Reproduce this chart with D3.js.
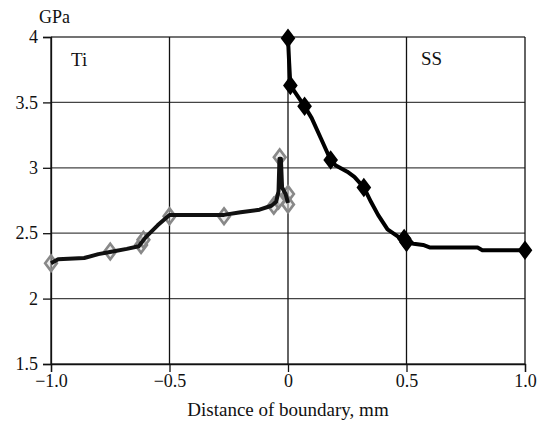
<!DOCTYPE html>
<html>
<head>
<meta charset="utf-8">
<script src="https://cdn.jsdelivr.net/npm/d3@7"></script>
<style>
  body { margin: 0; background: #fff; }
  text { font-family: "Liberation Serif", "Times New Roman", serif; fill: #111; }
</style>
</head>
<body>
<div id="chart"></div>
<script>
// data: [distance mm, hardness GPa]
const tiLine = [[-1.00, 2.27], [-0.97, 2.30], [-0.86, 2.31], [-0.80, 2.34], [-0.74, 2.36], [-0.68, 2.38],
  [-0.63, 2.40], [-0.60, 2.47], [-0.55, 2.56], [-0.50, 2.64], [-0.40, 2.64], [-0.27, 2.64],
  [-0.20, 2.66], [-0.12, 2.68], [-0.07, 2.71], [-0.05, 2.74], [-0.04, 2.82], [-0.036, 3.07],
  [-0.03, 3.07], [-0.025, 2.85], [-0.01, 2.80], [0.0, 2.73]];
const tiMarks = [[-1.00, 2.27], [-0.75, 2.36], [-0.62, 2.41], [-0.61, 2.45], [-0.50, 2.63],
  [-0.27, 2.63], [-0.06, 2.71], [-0.04, 2.75], [-0.035, 3.08], [0.0, 2.80], [0.0, 2.72]];

const ssLine = [[0.0, 3.99], [0.005, 3.80], [0.01, 3.63], [0.04, 3.55], [0.07, 3.47], [0.10, 3.38],
  [0.14, 3.22], [0.18, 3.06], [0.20, 3.02], [0.25, 2.97], [0.28, 2.93], [0.32, 2.85],
  [0.35, 2.74], [0.38, 2.64], [0.42, 2.53], [0.46, 2.48], [0.50, 2.43], [0.53, 2.42],
  [0.57, 2.41], [0.60, 2.39], [0.80, 2.39], [0.82, 2.37], [1.0, 2.37]];
const ssMarks = [[0.0, 3.99], [0.01, 3.63], [0.07, 3.47], [0.18, 3.06], [0.32, 2.85],
  [0.49, 2.46], [0.50, 2.43], [1.0, 2.37]];

const xTicks = [-1.0, -0.5, 0, 0.5, 1.0];
const xTickLabels = ["\u22121.0", "\u22120.5", "0", "0.5", "1.0"];
const yTicks = [1.5, 2, 2.5, 3, 3.5, 4];

const margin = {top: 37, right: 17, bottom: 61, left: 51},
    width = 542 - margin.left - margin.right,
    height = 425 - margin.top - margin.bottom;

const svg = d3.select("#chart")
  .append("svg")
  .attr("width", width + margin.left + margin.right)
  .attr("height", height + margin.top + margin.bottom)
  .append("g")
  .attr("transform", `translate(${margin.left}, ${margin.top})`);

const x = d3.scaleLinear().domain([-1, 1]).range([0, width]);
const y = d3.scaleLinear().domain([1.5, 4]).range([height, 0]);

// grid
svg.selectAll(".hgrid")
  .data(yTicks)
  .join("line")
  .attr("x1", 0).attr("x2", width)
  .attr("y1", d => y(d)).attr("y2", d => y(d))
  .attr("stroke", "#444").attr("stroke-width", 1.3);

svg.selectAll(".vgrid")
  .data(xTicks)
  .join("line")
  .attr("x1", d => x(d)).attr("x2", d => x(d))
  .attr("y1", 0).attr("y2", height)
  .attr("stroke", "#111").attr("stroke-width", 1.3);

// axes
const yAxis = svg.append("g")
  .call(d3.axisLeft(y).tickValues(yTicks).tickFormat(d3.format("")).tickSize(8).tickPadding(5));
const xAxis = svg.append("g")
  .attr("transform", `translate(0, ${height})`)
  .call(d3.axisBottom(x).tickValues(xTicks).tickFormat((d, i) => xTickLabels[i]).tickSize(8).tickPadding(2));

[xAxis, yAxis].forEach(a => {
  a.select(".domain").attr("stroke", "#111").attr("stroke-width", 1.3);
  a.selectAll(".tick line").attr("stroke", "#111").attr("stroke-width", 1.3);
  a.selectAll("text").style("font-size", "18px").style("font-family", "Liberation Serif").attr("fill", "#111");
});

// lines
const line = d3.line().x(d => x(d[0])).y(d => y(d[1]));
const diamond = d3.symbol().type(d3.symbolDiamond).size(70);

// Ti: grey open diamonds half hidden under the black line
svg.selectAll(".tiMark")
  .data(tiMarks)
  .join("path")
  .attr("d", diamond)
  .attr("transform", d => `translate(${x(d[0])}, ${y(d[1])}) scale(1.3, 1)`)
  .attr("fill", "#ddd")
  .attr("fill-opacity", 0.5)
  .attr("stroke", "#888")
  .attr("stroke-width", 2.2);

svg.append("path")
  .datum(tiLine)
  .attr("d", line)
  .attr("fill", "none")
  .attr("stroke", "#111")
  .attr("stroke-width", 4)
  .attr("stroke-linejoin", "round");

svg.append("path")
  .datum(ssLine)
  .attr("d", line)
  .attr("fill", "none")
  .attr("stroke", "#000")
  .attr("stroke-width", 4)
  .attr("stroke-linejoin", "round");

svg.selectAll(".ssMark")
  .data(ssMarks)
  .join("path")
  .attr("d", diamond)
  .attr("transform", d => `translate(${x(d[0])}, ${y(d[1])}) scale(1.3, 1)`)
  .attr("fill", "#000")
  .attr("stroke", "#000")
  .attr("stroke-width", 2);

// labels
svg.append("text")
  .attr("x", -12).attr("y", -14)
  .style("font-size", "18px")
  .text("GPa");

svg.append("text")
  .attr("x", 20).attr("y", 29)
  .style("font-size", "19px")
  .text("Ti");

svg.append("text")
  .attr("x", 370).attr("y", 28)
  .style("font-size", "19px")
  .text("SS");

svg.append("text")
  .attr("x", width / 2).attr("y", height + 52)
  .attr("text-anchor", "middle")
  .style("font-size", "19px")
  .text("Distance of boundary, mm");
</script>
</body>
</html>
